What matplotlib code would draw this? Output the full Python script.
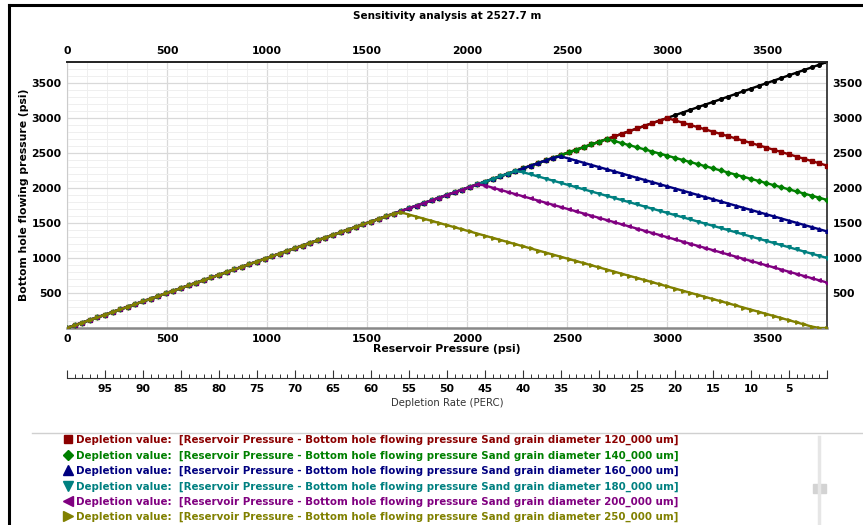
import numpy as np
import matplotlib.pyplot as plt
from matplotlib.ticker import MultipleLocator

# depletion grid: 100 % .. 0 % in 1 % steps, reservoir pressure up to 3800 psi
depletion = np.arange(100, -1, -1)
res_pressure = np.linspace(0, 3800, 101)

sand_um = ["120_000", "140_000", "160_000", "180_000", "200_000", "250_000"]
# pressure where each curve turns down, and BHP read at 3800 psi
turn_p = [3000, 2700, 2460, 2250, 2060, 1660]
bhp_end = [2320, 1830, 1380, 1000, 650, -40]

colors = ["#8b0000", "#008000", "#000080", "#008080", "#800080", "#808000"]
markers = ["s", "D", "^", "v", "<", ">"]
leg_sizes = [6, 5, 6.5, 6.5, 6.5, 6.5]

W, H = 863, 525
fig = plt.figure(figsize=(W/100, H/100), dpi=100)
fig.patch.set_facecolor("white")

def box(l, t, r, b):
    return [l/W, 1-b/H, (r-l)/W, (b-t)/H]

ax = fig.add_axes(box(67, 62, 827, 328))
ax.set_xlim(0, 3800)
ax.set_ylim(0, 3800)

ax.plot(res_pressure, res_pressure, color="black", marker="o", markersize=2.6, linewidth=1.7, zorder=2)
lines = []
for i in range(len(sand_um)):
    p = turn_p[i]
    y = np.where(res_pressure <= p, res_pressure, p + (bhp_end[i]-p)*(res_pressure-p)/(3800-p))
    y = np.clip(y, 0, None)
    ln, = ax.plot(res_pressure, y, color=colors[i], marker=markers[i], markersize=2.6,
                  linewidth=1.7, zorder=3+i,
                  label="Depletion value:  [Reservoir Pressure - Bottom hole flowing pressure Sand grain diameter " + sand_um[i] + " um]")
    lines.append(ln)

ax.xaxis.set_major_locator(MultipleLocator(500))
ax.xaxis.set_minor_locator(MultipleLocator(100))
ax.set_yticks([500, 1000, 1500, 2000, 2500, 3000, 3500])
ax.yaxis.set_minor_locator(MultipleLocator(100))
ax.grid(which="major", color="#d9d9d9", linewidth=0.9)
ax.grid(which="minor", color="#efefef", linewidth=0.7)
ax.set_axisbelow(True)
ax.tick_params(which="both", length=0, labeltop=True, labelright=True, labelsize=7.8, pad=4)
plt.setp(ax.xaxis.get_majorticklabels(), fontweight="bold")
plt.setp(ax.yaxis.get_majorticklabels(), fontweight="bold")
ax.spines["top"].set_color("#222222")
ax.spines["top"].set_linewidth(1.4)
ax.spines["right"].set_color("#444444")
ax.spines["right"].set_linewidth(1.4)
ax.spines["bottom"].set_color("#888888")
ax.spines["bottom"].set_linewidth(1.8)
ax.spines["left"].set_color("#cccccc")

ax.set_xlabel("Reservoir Pressure (psi)", fontsize=7.8, fontweight="bold", labelpad=0)
fig.text(24/W, 1-195/H, "Bottom hole flowing pressure (psi)", rotation=90, fontsize=7.8,
         fontweight="bold", ha="center", va="center")
fig.text(447/W, 1-16/H, "Sensitivity analysis at 2527.7 m", fontsize=7.5, fontweight="bold",
         ha="center", va="center")

# depletion rate scale under the plot
ax2 = fig.add_axes(box(67, 370, 827, 378))
ax2.set_xlim(100, 0)
ax2.set_ylim(0, 1)
ax2.patch.set_alpha(0)
for s in ["top", "left", "right"]:
    ax2.spines[s].set_visible(False)
ax2.spines["bottom"].set_color("#333333")
ax2.set_yticks([])
ax2.xaxis.set_minor_locator(MultipleLocator(1))
ax2.tick_params(which="major", direction="in", length=6, width=0.8, color="#333333", labelsize=7.8, pad=4)
ax2.tick_params(which="minor", direction="in", length=3, width=0.7, color="#333333")
ax2.set_xticks(range(0, 101, 5))
ax2.set_xticklabels(["" if v in (0, 100) else str(v) for v in range(0, 101, 5)], fontweight="bold")
ax2.set_xlabel("Depletion Rate (PERC)", fontsize=7.3, color="#333333", labelpad=3)

# frame lines and legend panel
fig.add_artist(plt.Line2D([9/W, 9/W], [0, 1-5/H], color="black", linewidth=2.2))
fig.add_artist(plt.Line2D([9/W, 1], [1-5/H, 1-5/H], color="black", linewidth=2.2))
fig.add_artist(plt.Line2D([32/W, 1], [1-433/H, 1-433/H], color="#d0d0d0", linewidth=1))
fig.add_artist(plt.Line2D([819/W, 819/W], [0, 1-437/H], color="#e6e6e6", linewidth=2.5))
fig.add_artist(plt.Rectangle((813/W, 1-493/H), 13/W, 9/H, color="#d3d3d3", transform=fig.transFigure))

leg = fig.legend(handles=lines, loc="upper left", bbox_to_anchor=(64/W, 1-434/H), frameon=False,
                 labelcolor="linecolor", handlelength=0.5, handletextpad=0.6,
                 labelspacing=0.5, borderaxespad=0, borderpad=0.1,
                 prop={"weight": "bold", "size": 7.4})
for i, h in enumerate(leg.legend_handles):
    h.set_linestyle("none")
    h.set_markersize(leg_sizes[i])

fig.savefig("out.png", dpi=100)
